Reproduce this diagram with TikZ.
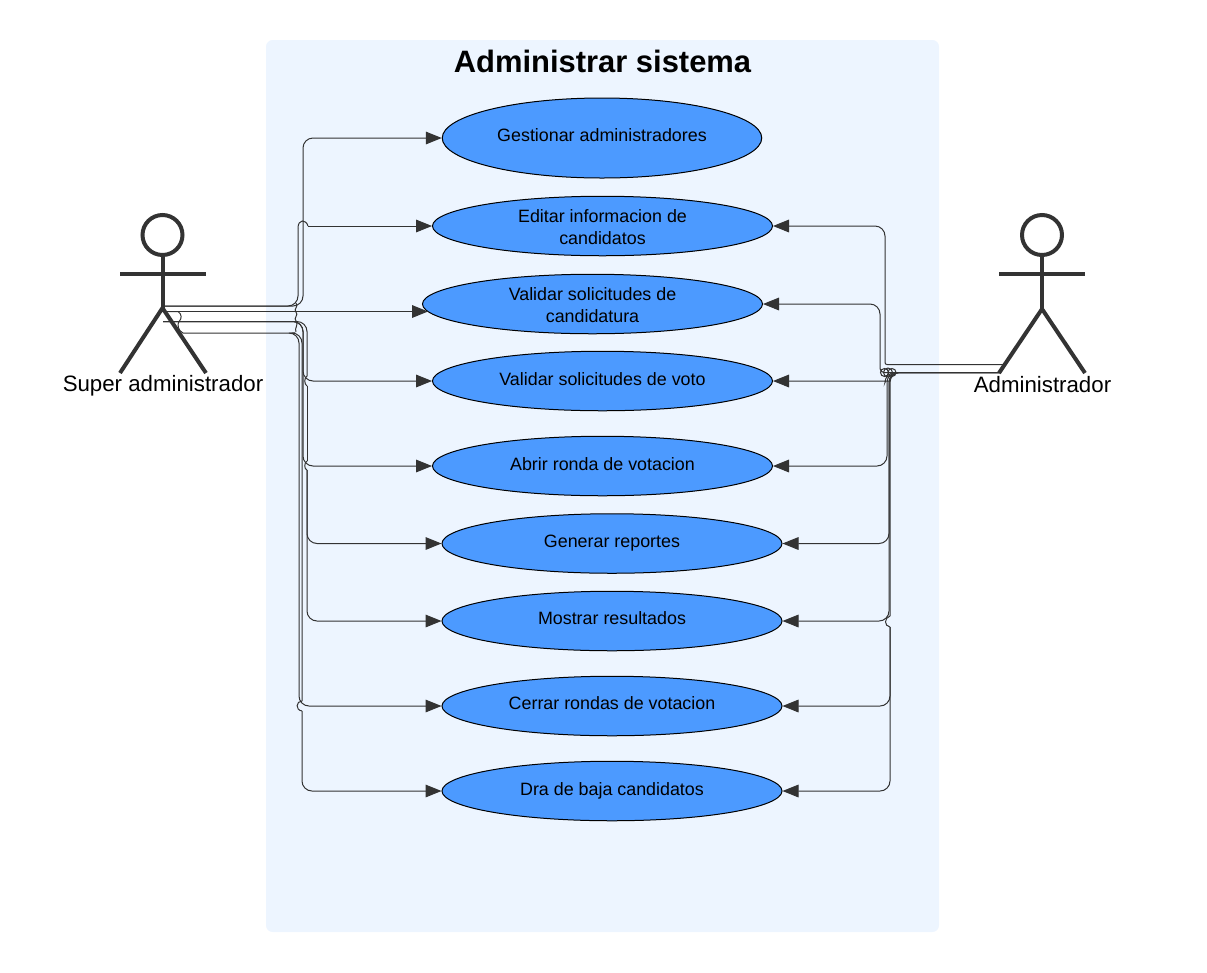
\documentclass[tikz,border=0pt]{standalone}
\usepackage{fontspec}
\setmainfont{Liberation Sans}
\usetikzlibrary{arrows.meta,shapes.geometric}
\definecolor{panel}{HTML}{EDF5FF}
\definecolor{ucfill}{HTML}{4C9AFF}
\definecolor{ink}{HTML}{333333}
\tikzset{
  uc/.style={shape=ellipse,draw=black,line width=.75pt,fill=ucfill,inner sep=0pt,minimum height=#1*.75pt},
  uc/.default=59.5,
  wide/.style={minimum width=340*.75pt},
  uctext/.style={font=\fontsize{13.4}{16.5}\selectfont,align=center,text=black},
  link/.style={draw=ink,line width=.75pt,rounded corners=7.5pt},
  go/.style={link,-{Triangle[length=12pt,width=9.5pt,fill=ink]}},
  hop/.style={draw=ink,line width=.75pt},
  stick/.style={draw=ink,line width=3pt},
  actorname/.style={font=\fontsize{16.7}{20}\selectfont,text=black},
}
\begin{document}
\begin{tikzpicture}[x=.75pt,y=-.75pt]
\useasboundingbox (0,0) rectangle (1207,972);
\fill[panel,rounded corners=5pt] (266,40) rectangle (939,932);
\node[font=\fontsize{23.2}{28}\selectfont\bfseries] (title) at (602.5,61) {Administrar sistema};

% use cases
\node[uc=80,minimum width=319.5*.75pt,label={[uctext,yshift=2.25pt]center:Gestionar administradores}] (e1) at (602,138) {};
\node[uc,wide,label={[uctext,yshift=-.75pt]center:Editar informacion de\\candidatos}] (e2) at (602.5,226) {};
\node[uc,wide,label={[uctext,yshift=-.75pt]center:Validar solicitudes de\\candidatura}] (e3) at (592.5,304) {};
\node[uc,wide,label={[uctext,yshift=1.5pt]center:Validar solicitudes de voto}] (e4) at (602.5,381) {};
\node[uc,wide,label={[uctext,yshift=1.5pt]center:Abrir ronda de votacion}] (e5) at (602.5,466) {};
\node[uc,wide,label={[uctext,yshift=0pt]center:Generar reportes}] (e6) at (612,543.5) {};
\node[uc,wide,label={[uctext,yshift=2.25pt]center:Mostrar resultados}] (e7) at (612,621) {};
\node[uc,wide,label={[uctext,yshift=2.25pt]center:Cerrar rondas de votacion}] (e8) at (612,706) {};
\node[uc,wide,label={[uctext,yshift=0pt]center:Dra de baja candidatos}] (e9) at (612,791) {};

% actors
\draw[stick] (162.5,235) circle (20);
\draw[stick] (120,274.4) -- (206,274.4);
\draw[stick] (162.5,255) -- (162.5,308);
\draw[stick] (120,373) -- (162.5,308) -- (206,373);
\node[actorname] (sa) at (163,385.5) {Super administrador};
\draw[stick] (1042,235) circle (20);
\draw[stick] (999,274.4) -- (1085,274.4);
\draw[stick] (1042,255) -- (1042,309);
\draw[stick] (999,373) -- (1042,309) -- (1085,373);
\node[actorname] (ad) at (1042.5,384.5) {Administrador};

\coordinate (sa1) at (163,306);
\coordinate (sa2) at (163,311.5);
\coordinate (sa3) at (163,321.5);
\coordinate (e3in) at (428,311.5);
\coordinate (ad1) at (1003,364.5);
\coordinate (ad2) at (1000,372.5);

% left connectors
\draw[go] (sa1) -- (303,306) -- (303,138) -- (e1.west);
\draw[link] (sa1) -- (298,306) -- (298,228);
\draw[hop] (298,228) .. controls (298,219) and (306,219) .. (308,226);
\draw[go] (308,226) -- (e2.west);
\draw[go] (sa2) -- (e3in);
\draw[link] (sa3) -- (307,321.5) -- (307,376);
\draw[hop] (307,376) .. controls (304,378) and (304,384) .. (307,386);
\draw[link] (307,386) -- (307,461);
\draw[hop] (307,461) .. controls (304,463) and (304,469) .. (307,470);
\draw[go] (sa3) -- (303,321.5) -- (303,381) -- (e4.west);
\draw[go] (sa3) -- (303,321.5) -- (303,466) -- (e5.west);
\draw[go] (307,470) -- (307,543.5) -- (e6.west);
\draw[go] (307,470) -- (307,621) -- (e7.west);
\draw[hop] (sa2) -- (178,311.5) .. controls (182,314) and (182,319) .. (179,321.5);
\draw[hop] (179,321.5) .. controls (177,324) and (178,331) .. (183,333) -- (295,333);
\draw[go] (295,333) -- (299,333) -- (299,706) -- (e8.west);
\draw[link] (295,333) -- (302,333) -- (302,701);
\draw[hop] (302,701) .. controls (296,701) and (295,710) .. (302,711);
\draw[go] (302,711) -- (302,791) -- (e9.west);
\draw[hop] (296,303) .. controls (299,307) and (293,309) .. (296,312) .. controls (299,315) and (293,318) .. (296,321) .. controls (299,325) and (294,328) .. (296,332);

% right connectors
\draw[go] (ad1) [rounded corners=1.5pt] -- (885,364.5) [rounded corners=7.5pt] -- (885,226) -- (e2.east);
\draw[go] (ad2) [rounded corners=3pt] -- (880,372.5) [rounded corners=7.5pt] -- (880,304) -- (e3.east);
\draw[go] (ad2) -- (885,372.5) .. controls (885,381) and (885,381) .. (880,381) -- (e4.east);
\draw[go] (ad2) -- (887,372.5) -- (887,466) -- (e5.east);
\draw[go] (ad2) -- (889,372.5) -- (889,543.5) -- (e6.east);
\draw[go] (ad2) -- (889,372.5) -- (889,621) -- (e7.east);
\draw[link] (ad2) -- (890,372.5) -- (890,616);
\draw[hop] (890,616) .. controls (884,618) and (884,626) .. (890,627);
\draw[go] (890,627) -- (890,706) -- (e8.east);
\draw[go] (890,627) -- (890,791) -- (e9.east);
\draw[hop] (884.5,372.5) circle (4);
\draw[hop] (888,372.5) circle (4.5);
\draw[hop] (892,372.5) circle (4);
\end{tikzpicture}
\end{document}
